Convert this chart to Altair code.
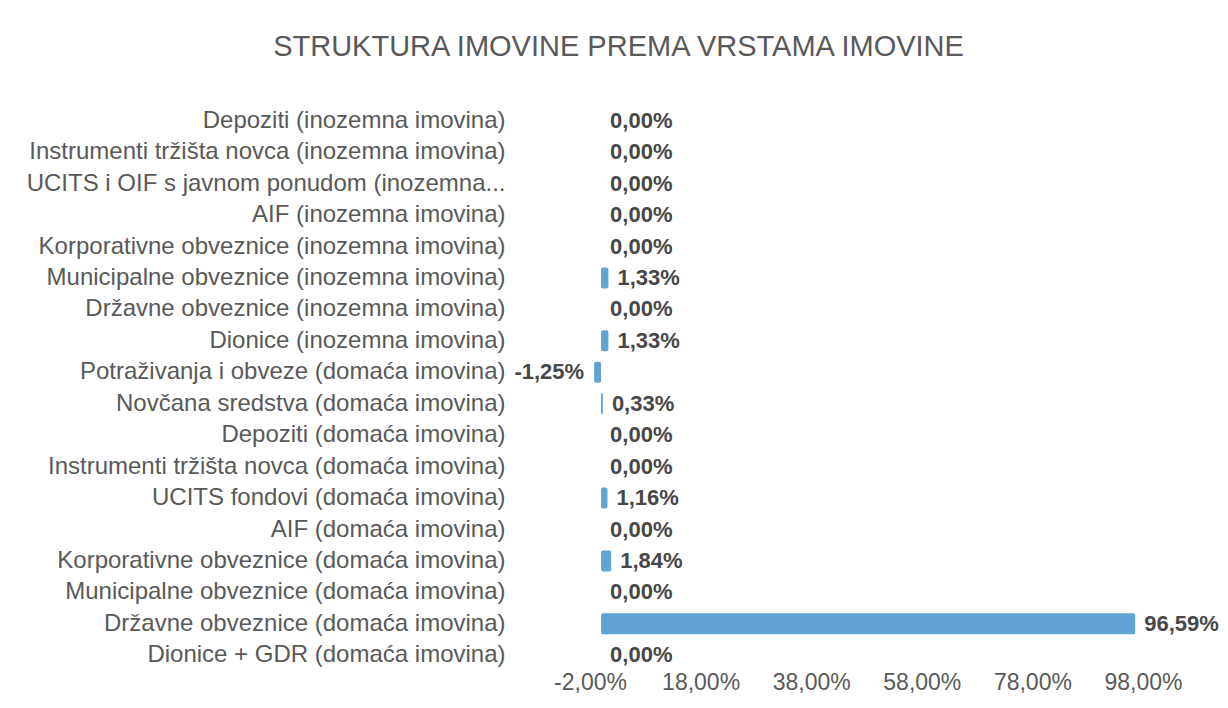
import altair as alt
import pandas as pd

title_text = "STRUKTURA IMOVINE PREMA VRSTAMA IMOVINE"

categories = [
    "Depoziti (inozemna imovina)",
    "Instrumenti tržišta novca (inozemna imovina)",
    "UCITS i OIF s javnom ponudom (inozemna...",
    "AIF (inozemna imovina)",
    "Korporativne obveznice (inozemna imovina)",
    "Municipalne obveznice (inozemna imovina)",
    "Državne obveznice (inozemna imovina)",
    "Dionice (inozemna imovina)",
    "Potraživanja i obveze (domaća imovina)",
    "Novčana sredstva (domaća imovina)",
    "Depoziti (domaća imovina)",
    "Instrumenti tržišta novca (domaća imovina)",
    "UCITS fondovi (domaća imovina)",
    "AIF  (domaća imovina)",
    "Korporativne obveznice (domaća imovina)",
    "Municipalne obveznice (domaća imovina)",
    "Državne obveznice (domaća imovina)",
    "Dionice + GDR (domaća imovina)",
]

values = [0.00, 0.00, 0.00, 0.00, 0.00, 1.33, 0.00, 1.33, -1.25, 0.33,
          0.00, 0.00, 1.16, 0.00, 1.84, 0.00, 96.59, 0.00]

tick_values = [-2, 18, 38, 58, 78, 98]

df = pd.DataFrame({"cat": categories, "val": values})
df["label"] = [f"{v:.2f}".replace(".", ",") + "%" for v in values]

FONT = "Liberation Sans"
GRAY = "#595959"

x = alt.X(
    "val:Q",
    scale=alt.Scale(domain=[-2, 98], nice=False, zero=False),
    axis=alt.Axis(
        values=tick_values,
        labelExpr="replace(replace(format(datum.value, '.2f'), '.', ','), '\u2212', '-') + '%'",
        grid=False, domain=False, ticks=False, title=None,
        labelFont=FONT, labelFontSize=23, labelColor=GRAY, labelPadding=0,
        labelFlush=False,
    ),
)
y = alt.Y(
    "cat:N",
    sort=categories,
    scale=alt.Scale(paddingInner=0.3, paddingOuter=0.15),
    axis=alt.Axis(
        domain=False, ticks=False, grid=False, title=None,
        labelFont=FONT, labelFontSize=24, labelColor=GRAY,
        labelPadding=85, labelLimit=700,
    ),
)

base = alt.Chart(df)

bars = base.mark_bar(color="#62a3d6", size=21, cornerRadius=2).encode(
    x=x, x2=alt.datum(0), y=y
)

pos_labels = base.transform_filter("datum.val >= 0").mark_text(
    align="left", baseline="middle", dx=9, font=FONT, fontSize=22,
    fontWeight="bold", color="#474747"
).encode(x="val:Q", y=alt.Y("cat:N", sort=categories), text="label:N")

neg_labels = base.transform_filter("datum.val < 0").mark_text(
    align="right", baseline="middle", dx=-10, font=FONT, fontSize=22,
    fontWeight="bold", color="#474747"
).encode(x="val:Q", y=alt.Y("cat:N", sort=categories), text="label:N")

chart = (
    alt.layer(bars, pos_labels, neg_labels)
    .properties(
        width=553,
        height=566,
        autosize=alt.AutoSizeParams(type="none"),
        padding={"left": 590, "top": 105, "right": 85, "bottom": 37},
        title=alt.TitleParams(
            title_text, font=FONT, fontSize=29, fontWeight="normal",
            color=GRAY, anchor="middle", frame="group", dx=-248, offset=43,
        ),
        background="white",
    )
    .configure_view(stroke=None)
)

chart.save("out.html", embed_options={"renderer": "svg", "actions": False})
